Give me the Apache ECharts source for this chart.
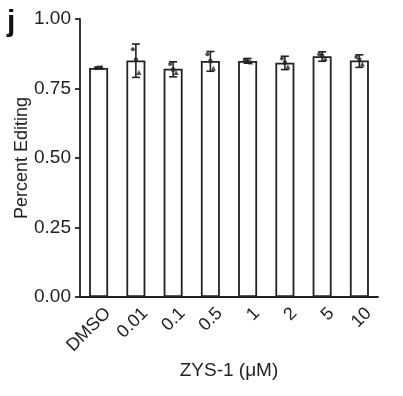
<!DOCTYPE html>
<html><head><meta charset="utf-8">
<script src="https://cdn.jsdelivr.net/npm/echarts@6/dist/echarts.min.js"></script>
<style>html,body{margin:0;padding:0;background:#fff;}#c{width:403px;height:396px;}</style>
</head><body><div id="c"></div>
<script>
const categories = ['DMSO','0.01','0.1','0.5','1','2','5','10'];
const means   = [0.824, 0.851, 0.821, 0.849, 0.849, 0.843, 0.866, 0.851];
const errHigh = [0.827, 0.910, 0.846, 0.883, 0.858, 0.866, 0.882, 0.871];
const errLow  = [0.821, 0.790, 0.792, 0.812, 0.841, 0.818, 0.848, 0.826];
const rep1 = [0.823, 0.891, 0.838, 0.873, 0.853, 0.858, 0.873, 0.863];
const rep2 = [0.825, 0.853, 0.818, 0.848, 0.848, 0.843, 0.868, 0.853];
const rep3 = [0.827, 0.808, 0.808, 0.823, 0.845, 0.828, 0.858, 0.838];

const chart = echarts.init(document.getElementById('c'));
const font = 'Liberation Sans, Arial, sans-serif';
const errData = categories.map((c,i)=>[i, errLow[i], errHigh[i]]);
const pts = arr => arr.map((v,i)=>[i, v]);
chart.setOption({
  animation:false,
  grid:{left:80, right:25, top:19, bottom:99, containLabel:false, outerBoundsMode:'none'},
  graphic:[{type:'text', left:7, top:8, style:{text:'j', font:'bold 30px '+font, fill:'#111'}}],
  xAxis:{
    type:'category', data:categories,
    axisLine:{lineStyle:{color:'#222', width:1.8}},
    axisTick:{alignWithLabel:true, length:5, lineStyle:{color:'#222', width:1.8}},
    axisLabel:{rotate:45, color:'#222', fontSize:18, fontFamily:font, margin:10, verticalAlign:'top', padding:[0,-4,0,0]},
    name:'ZYS-1 (μM)', nameLocation:'middle', nameGap:64, nameMoveOverlap:false,
    nameTextStyle:{color:'#222', fontSize:19, fontFamily:font}
  },
  yAxis:{
    type:'value', min:0, max:1, interval:0.25,
    axisLine:{show:true, lineStyle:{color:'#222', width:1.8}},
    axisTick:{show:true, length:5, lineStyle:{color:'#222', width:1.8}},
    splitLine:{show:false},
    axisLabel:{color:'#222', fontSize:19, fontFamily:font, margin:9,
      formatter:v=>v.toFixed(2)},
    name:'Percent Editing', nameLocation:'middle', nameGap:49, nameMoveOverlap:false,
    nameTextStyle:{color:'#222', fontSize:18, fontFamily:font}
  },
  series:[
    {type:'bar', data:means, barWidth:19,
     itemStyle:{color:'#fff', borderColor:'#222', borderWidth:1.8}},
    {type:'custom', data:errData, z:5,
     renderItem:function(params, api){
       const i=api.value(0);
       const lo=api.coord([i, api.value(1)]);
       const hi=api.coord([i, api.value(2)]);
       const w=4;
       const st={stroke:'#222', lineWidth:1.6};
       return {type:'group', children:[
         {type:'line', shape:{x1:hi[0],y1:hi[1],x2:lo[0],y2:lo[1]}, style:st},
         {type:'line', shape:{x1:hi[0]-w,y1:hi[1],x2:hi[0]+w,y2:hi[1]}, style:st},
         {type:'line', shape:{x1:lo[0]-w,y1:lo[1],x2:lo[0]+w,y2:lo[1]}, style:st}
       ]};
     }},
    {type:'scatter', data:pts(rep1), symbol:'circle', symbolSize:4, symbolOffset:[-3,0], itemStyle:{color:'#222'}, z:6},
    {type:'scatter', data:pts(rep2), symbol:'rect', symbolSize:4, symbolOffset:[0,0], itemStyle:{color:'#222'}, z:6},
    {type:'scatter', data:pts(rep3), symbol:'triangle', symbolSize:5, symbolOffset:[3,0], itemStyle:{color:'#222'}, z:6}
  ]
});
</script></body></html>
